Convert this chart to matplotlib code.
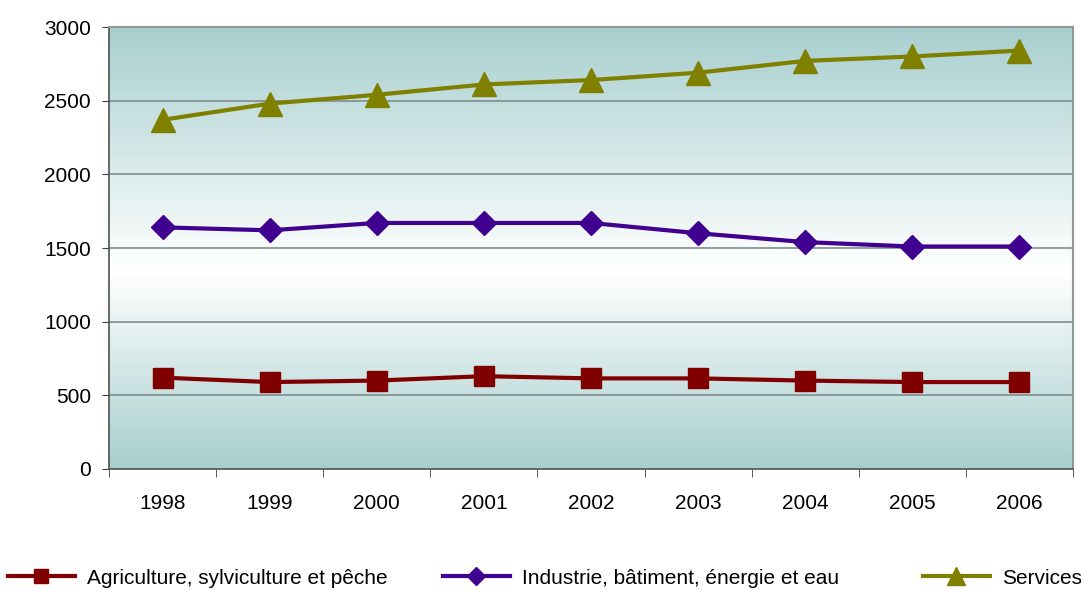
import numpy as np
import matplotlib.pyplot as plt
from matplotlib.colors import LinearSegmentedColormap

plt.rcParams['font.family'] = ['Liberation Sans', 'DejaVu Sans']

years = ['1998', '1999', '2000', '2001', '2002', '2003', '2004', '2005', '2006']
agriculture = [620, 590, 600, 630, 615, 615, 600, 590, 590]
industrie = [1640, 1620, 1670, 1670, 1670, 1600, 1540, 1510, 1510]
services = [2370, 2480, 2540, 2610, 2640, 2690, 2770, 2800, 2840]

labels = ['Agriculture, sylviculture et pêche',
          'Industrie, bâtiment, énergie et eau',
          'Services']

fig = plt.figure(figsize=(10.81, 5.90), dpi=100)
ax = fig.add_axes([109/1081, 1 - 469/590, 964/1081, 442/590])

x = np.arange(len(years))

# background gradient teal - white - teal
cmap = LinearSegmentedColormap.from_list(
    'bg', [(0, '#a8cfcf'), (0.45, '#ffffff'), (1, '#a8cfcf')])
grad = np.linspace(0, 1, 256).reshape(-1, 1)
ax.imshow(grad, cmap=cmap, aspect='auto', extent=(-0.5, 8.5, 0, 3000),
          origin='lower', zorder=0)

for v in range(500, 3000, 500):
    ax.axhline(v, color='#7f8c8c', lw=1.2, zorder=1)

lines = []
lines += ax.plot(x, agriculture, color='#800000', lw=3, marker='s', ms=14,
                 zorder=3, label=labels[0])
lines += ax.plot(x, industrie, color='#400090', lw=3, marker='D', ms=12,
                 zorder=3, label=labels[1])
lines += ax.plot(x, services, color='#808000', lw=3, marker='^', ms=17,
                 zorder=3, label=labels[2])

ax.set_xlim(-0.5, 8.5)
ax.set_ylim(0, 3000)
ax.set_yticks(range(0, 3001, 500))
ax.set_xticks(x)
ax.set_xticklabels(years)
ax.set_xticks(np.arange(-0.5, 9, 1), minor=True)
ax.tick_params(axis='x', which='major', length=0, pad=18, labelsize=15)
ax.tick_params(axis='x', which='minor', length=6, direction='out', color='#404040')
ax.tick_params(axis='y', length=5, direction='out', labelsize=15, pad=8, color='#404040')

for s in ['top', 'right']:
    ax.spines[s].set_color('#909898')
    ax.spines[s].set_linewidth(1.5)
for s in ['left', 'bottom']:
    ax.spines[s].set_color('#505050')
    ax.spines[s].set_linewidth(1.2)

# legend entries placed separately along the bottom
legend_x = [8, 443, 923]
for line, lx in zip(lines, legend_x):
    leg = fig.legend([line], [line.get_label()], loc='center left',
                     bbox_to_anchor=(lx/1081, 1 - 578/590), frameon=False,
                     fontsize=15, handlelength=3.2, handletextpad=0.6,
                     borderpad=0, borderaxespad=0, markerscale=0.75)

plt.savefig('out.png', dpi=100)
